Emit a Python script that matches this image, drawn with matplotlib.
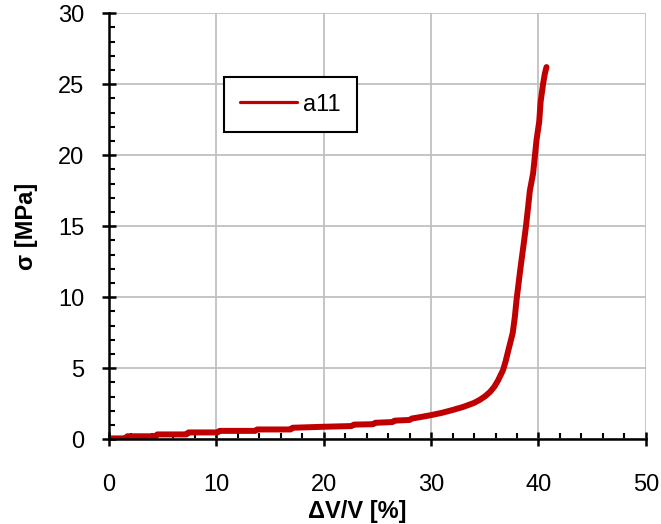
""" Courbe contrainte / déformation volumique
"""
import matplotlib.pyplot as plt
from matplotlib.ticker import MultipleLocator

plt.rcParams['font.family'] = ['Liberation Sans', 'DejaVu Sans']

# déformation volumique [%] et contrainte [MPa]
dv = [0, 1.5, 1.7, 4.3, 4.5, 7.2, 7.4, 10.1, 10.3, 13.6, 13.8, 16.9, 17.1, 20,
      22.6, 22.8, 24.6, 24.8, 26.4, 26.6, 28, 28.2, 29, 30, 31, 32, 33, 34,
      34.5, 35, 35.5, 35.9, 36.25, 36.7, 36.95, 37.2, 37.6, 37.8, 37.96, 38.3,
      38.67, 38.83, 39.04, 39.2, 39.5, 39.66, 39.82, 40.07, 40.2, 40.44, 40.6,
      40.75]
sigma = [0.05, 0.05, 0.2, 0.2, 0.33, 0.33, 0.47, 0.47, 0.58, 0.58, 0.68, 0.68,
         0.8, 0.87, 0.92, 1.02, 1.05, 1.15, 1.2, 1.3, 1.35, 1.45, 1.55, 1.69,
         1.85, 2.05, 2.27, 2.55, 2.75, 3.0, 3.33, 3.7, 4.15, 4.86, 5.5, 6.27,
         7.46, 8.6, 9.8, 11.9, 14.0, 14.95, 16.36, 17.5, 18.7, 19.88, 21.06,
         22.35, 23.75, 25.05, 25.75, 26.2]
serie = "a11"

fs = 17

fig = plt.figure(figsize=(6.61, 5.24), dpi=100)
ax = fig.add_axes([0.165, 0.162, 0.812, 0.813])

ax.plot(dv, sigma, color="#C00000", lw=4.3, solid_capstyle="round",
        solid_joinstyle="round", label=serie, zorder=3)

ax.set_xlim(0, 50)
ax.set_ylim(0, 30)
ax.xaxis.set_major_locator(MultipleLocator(10))
ax.xaxis.set_minor_locator(MultipleLocator(2))
ax.yaxis.set_major_locator(MultipleLocator(5))
ax.yaxis.set_minor_locator(MultipleLocator(1))
ax.grid(True, which="major", color="#c0c0c0", lw=1.3, zorder=0)
ax.set_axisbelow(True)

for s in ("top", "right"):
    ax.spines[s].set_visible(False)
for s in ("left", "bottom"):
    ax.spines[s].set_linewidth(1.8)
    ax.spines[s].set_zorder(4)

ax.tick_params(which="major", direction="inout", length=10, width=1.8,
               labelsize=fs)
ax.tick_params(which="minor", direction="in", length=4.5, width=1.5)
ax.tick_params(axis="x", which="major", pad=20)
ax.tick_params(axis="y", which="major", pad=13)

ax.set_xlabel("ΔV/V [%]", fontsize=fs, fontweight="bold")
ax.xaxis.set_label_coords(0.462, -0.142)
ax.set_ylabel("σ [MPa]", fontsize=fs, fontweight="bold", labelpad=14.5)

leg = ax.legend(loc="upper left", bbox_to_anchor=(0.214, 0.85),
                fontsize=fs, handlelength=2.4, fancybox=False,
                borderpad=0.7, borderaxespad=0, handletextpad=0.25,
                framealpha=1)
leg.get_frame().set_edgecolor("black")
leg.get_frame().set_linewidth(1.5)
leg.get_lines()[0].set_linewidth(2.3)

plt.savefig("out.png", dpi=100)
